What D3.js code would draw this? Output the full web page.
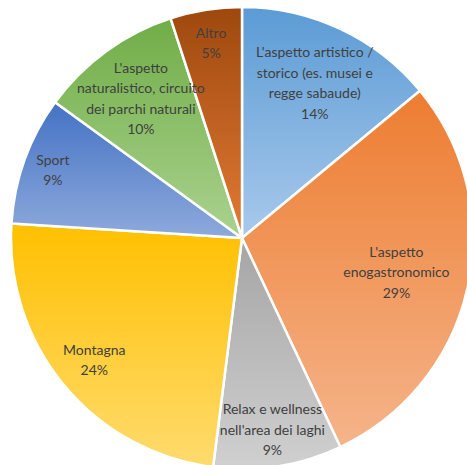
<!DOCTYPE html>
<html>
<head>
<meta charset="utf-8">
<script src="https://cdn.jsdelivr.net/npm/d3@7"></script>
<style>
  html, body { margin: 0; padding: 0; background: #ffffff; }
  svg { display: block; }
</style>
</head>
<body>
<svg id="chart" width="467" height="465"></svg>
<script>
// ---- Data ----
const categories = [
  "L'aspetto artistico / storico (es. musei e regge sabaude)",
  "L'aspetto enogastronomico",
  "Relax e wellness nell'area dei laghi",
  "Montagna",
  "Sport",
  "L'aspetto naturalistico, circuito dei parchi naturali",
  "Altro"
];
const values = [14, 29, 9, 24, 9, 10, 5];
const valueLabels = ["14%", "29%", "9%", "24%", "9%", "10%", "5%"];
const labelLines = [
  ["L'aspetto artistico /", "storico (es. musei e", "regge sabaude)"],
  ["L'aspetto", "enogastronomico"],
  ["Relax e wellness", "nell'area dei laghi"],
  ["Montagna"],
  ["Sport"],
  ["L'aspetto", "naturalistico, circuito", "dei parchi naturali"],
  ["Altro"]
];

// ---- Style / layout ----
const colorsTop    = ["#5b9bd5", "#ed7d31", "#a5a5a5", "#ffc000", "#4472c4", "#70ad47", "#9e480e"];
const colorsBottom = ["#a9c9eb", "#f5b48a", "#d0d0d0", "#ffdb6e", "#8eaadc", "#aad28f", "#e27a35"];
const labelRadiusFrac = [0.74, 0.685, 0.84, 0.83, 0.87, 0.745, 0.855];

const W = 467, H = 465;
const cx = 242, cy = 238, R = 231;
const fontSize = 14, lineH = 20.5;

const svg = d3.select("#chart");
const defs = svg.append("defs");

colorsTop.forEach((c, i) => {
  const g = defs.append("linearGradient")
    .attr("id", "grad" + i)
    .attr("x1", 0).attr("y1", 0).attr("x2", 0).attr("y2", 1);
  g.append("stop").attr("offset", "0%").attr("stop-color", c);
  g.append("stop").attr("offset", "100%").attr("stop-color", colorsBottom[i]);
});

const data = categories.map((c, i) => ({ cat: c, value: values[i], i }));

const pie = d3.pie().value(d => d.value).sort(null);
const arcs = pie(data);
const arc = d3.arc().innerRadius(0).outerRadius(R);

const g = svg.append("g").attr("transform", `translate(${cx},${cy})`);

g.selectAll("path.slice")
  .data(arcs)
  .join("path")
  .attr("class", "slice")
  .attr("d", arc)
  .attr("fill", d => `url(#grad${d.data.i})`)
  .attr("stroke", "#ffffff")
  .attr("stroke-width", 2.5)
  .attr("stroke-linejoin", "round");

const labels = g.selectAll("text.lbl")
  .data(arcs)
  .join("text")
  .attr("class", "lbl")
  .attr("text-anchor", "middle")
  .attr("font-family", "Lato, 'Noto Sans', sans-serif")
  .attr("font-size", fontSize)
  .attr("fill", "#404040")
  .each(function(d) {
    const i = d.data.i;
    const la = d3.arc().innerRadius(R * labelRadiusFrac[i]).outerRadius(R * labelRadiusFrac[i]);
    const [x, y] = la.centroid(d);
    const lines = labelLines[i].concat([valueLabels[i]]);
    const n = lines.length;
    const t = d3.select(this);
    lines.forEach((ln, k) => {
      t.append("tspan")
        .attr("x", x)
        .attr("y", y + (k - (n - 1) / 2) * lineH)
        .attr("dy", "0.35em")
        .text(ln);
    });
  });
</script>
</body>
</html>
